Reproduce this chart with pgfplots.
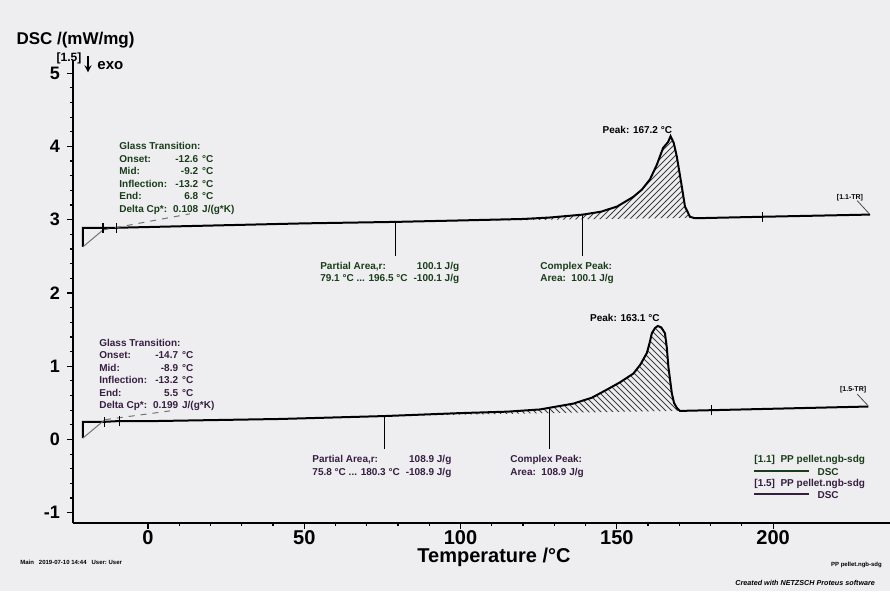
\documentclass[border=0pt]{standalone}
\usepackage{pgfplots}
\pgfplotsset{compat=1.18}
\usepackage{fontspec}
\setmainfont{Liberation Sans}
\usetikzlibrary{patterns}
\definecolor{bg}{RGB}{238,238,240}
\definecolor{gtg}{RGB}{25,60,25}
\definecolor{pur}{RGB}{55,30,65}
\newcommand{\fs}[1]{\fontsize{#1}{#1}\selectfont}
\newcommand{\fa}{\bfseries\fontsize{5}{6.25}\selectfont}
\begin{document}
\begin{tikzpicture}
\fill[bg] (0,0) rectangle (445pt,295.5pt);
\path[use as bounding box] (0,0) rectangle (445pt,295.5pt);
\begin{axis}[
 at={(36.5pt,34pt)}, anchor=south west,
 scale only axis, width=408.5pt, height=231.5pt,
 xmin=-24, xmax=237.4, ymin=-1.14, ymax=5.18,
 axis x line=bottom, axis y line=left,
 axis line style={-, line width=1pt},
 xtick={0,50,...,200}, ytick={-1,0,...,5},
 minor x tick num=4, minor y tick num=4,
 tick align=outside, major tick length=3pt, minor tick length=1.5pt,
 tick style={black, line width=0.6pt},
 x tick label style={font=\bfseries\fs{10}, yshift=3pt},
 y tick label style={font=\bfseries\fs{9}},
 /pgf/number format/assume math mode=true,
 clip=false,
]
% hatched partial areas
\addplot[draw=none, pattern=north east lines, pattern color=black!75] coordinates {
(79.1,2.97) (100,2.99) (120,3.01) (128.6,3.03) (139.2,3.07) (145,3.11) (150.1,3.18) (155.2,3.31) (158,3.41) (160.6,3.55) (162.8,3.75) (164.8,3.98) (166.4,4.06) (167.2,4.14) (168.2,4.05) (169.2,3.86) (170.8,3.45) (171.8,3.18) (173.4,3.04) (175,3.02) (196.5,3.04)};
\addplot[draw=none, pattern=north west lines, pattern color=black!75] coordinates {
(75.8,0.32) (99.8,0.36) (115,0.38) (125.4,0.41) (136.1,0.49) (142,0.57) (146.8,0.68) (151,0.78) (155.3,0.90) (157.5,1.02) (159.6,1.18) (160.5,1.32) (161.2,1.45) (162.2,1.52) (163.1,1.55) (164.2,1.53) (165.4,1.45) (166,1.25) (166.5,0.99) (167.6,0.63) (168.3,0.50) (169.2,0.43) (170.2,0.39) (180.3,0.40)};
% curve [1.1]
\addplot[black, line width=1pt] coordinates {
(-20.8,2.63) (-20.8,2.89) (-15,2.89) (-10,2.89) (0,2.90) (20,2.92) (50,2.95) (79.1,2.97) (100,2.99) (120,3.01) (128.6,3.03) (139.2,3.07) (145,3.11) (150.1,3.18) (155.2,3.31) (158,3.41) (160.6,3.55) (162.8,3.75) (164.8,3.98) (166.4,4.06) (167.2,4.14) (168.2,4.05) (169.2,3.86) (170.8,3.45) (171.8,3.18) (173.4,3.04) (175,3.02) (196.5,3.04) (231,3.07)};
% curve [1.5]
\addplot[black, line width=1pt] coordinates {
(-20.8,0.02) (-20.8,0.24) (-14.4,0.24) (-10,0.25) (0,0.25) (42.2,0.28) (75.8,0.32) (99.8,0.36) (115,0.38) (125.4,0.41) (136.1,0.49) (142,0.57) (146.8,0.68) (151,0.78) (155.3,0.90) (157.5,1.02) (159.6,1.18) (160.5,1.32) (161.2,1.45) (162.2,1.52) (163.1,1.55) (164.2,1.53) (165.4,1.45) (166,1.25) (166.5,0.99) (167.6,0.63) (168.3,0.50) (169.2,0.43) (170.2,0.39) (180.3,0.40) (230.5,0.45)};
% glass transition construction lines
\addplot[black!55, line width=0.5pt] coordinates {(-20.8,2.63) (-14.4,2.86)};
\addplot[black!55, line width=0.5pt, dashed] coordinates {(-14.4,2.86) (13.4,3.08)};
\addplot[black!55, line width=0.5pt] coordinates {(-20.8,0.02) (-13.8,0.27)};
\addplot[black!55, line width=0.5pt, dashed] coordinates {(-13.8,0.27) (7.0,0.39)};
% small tick marks on curves
\addplot[black, line width=0.6pt] coordinates {(-14.4,2.82) (-14.4,2.96)};
\addplot[black, line width=0.6pt] coordinates {(-10.0,2.82) (-10.0,2.96)};
\addplot[black, line width=0.6pt] coordinates {(196.5,2.97) (196.5,3.11)};
\addplot[black, line width=0.6pt] coordinates {(-13.8,0.17) (-13.8,0.31)};
\addplot[black, line width=0.6pt] coordinates {(-9.2,0.18) (-9.2,0.32)};
\addplot[black, line width=0.6pt] coordinates {(180.3,0.33) (180.3,0.47)};
% vertical marker lines
\addplot[black, line width=0.5pt] coordinates {(79.1,2.97) (79.1,2.50)};
\addplot[black, line width=0.5pt] coordinates {(138.9,3.07) (138.9,2.50)};
\addplot[black, line width=0.5pt] coordinates {(75.8,0.32) (75.8,-0.13)};
\addplot[black, line width=0.5pt] coordinates {(128.4,0.42) (128.4,-0.13)};
% TR leaders
\addplot[black!70, line width=0.4pt] coordinates {(226.9,3.26) (230.8,3.08)};
\addplot[black!70, line width=0.4pt] coordinates {(226.9,0.62) (230.4,0.46)};
% legend lines
\addplot[gtg, line width=0.6pt] coordinates {(193.9,-0.43) (211.5,-0.43)};
\addplot[pur, line width=0.6pt] coordinates {(193.9,-0.745) (211.5,-0.745)};

% texts
\node[anchor=north west, gtg, font=\fa, inner sep=0pt] at (axis cs:-9.28,4.08) {%
\setlength{\tabcolsep}{0pt}\begin{tabular}{l@{\hspace{3pt}}r@{\hspace{2pt}}l}
\multicolumn{3}{l}{Glass Transition:}\\
Onset: & -12.6 & °C\\
Mid: & -9.2 & °C\\
Inflection: & -13.2 & °C\\
End: & 6.8 & °C\\
Delta Cp*: & 0.108 & J/(g*K)
\end{tabular}};
\node[anchor=north west, pur, font=\fa, inner sep=0pt] at (axis cs:-15.7,1.40) {%
\setlength{\tabcolsep}{0pt}\begin{tabular}{l@{\hspace{3pt}}r@{\hspace{2pt}}l}
\multicolumn{3}{l}{Glass Transition:}\\
Onset: & -14.7 & °C\\
Mid: & -8.9 & °C\\
Inflection: & -13.2 & °C\\
End: & 5.5 & °C\\
Delta Cp*: & 0.199 & J/(g*K)
\end{tabular}};
\node[anchor=north west, gtg, font=\fa, inner sep=0pt] at (axis cs:55.0,2.45) {%
\setlength{\tabcolsep}{0pt}\begin{tabular}{l@{\hspace{3pt}}r}
Partial Area,r: & 100.1 J/g\\
79.1 °C ... 196.5 °C & -100.1 J/g
\end{tabular}};
\node[anchor=north west, gtg, font=\fa, inner sep=0pt] at (axis cs:125.4,2.45) {%
\setlength{\tabcolsep}{0pt}\begin{tabular}{l}
Complex Peak:\\
Area:\ \ 100.1 J/g
\end{tabular}};
\node[anchor=north west, pur, font=\fa, inner sep=0pt] at (axis cs:52.5,-0.19) {%
\setlength{\tabcolsep}{0pt}\begin{tabular}{l@{\hspace{3pt}}r}
Partial Area,r: & 108.9 J/g\\
75.8 °C ... 180.3 °C & -108.9 J/g
\end{tabular}};
\node[anchor=north west, pur, font=\fa, inner sep=0pt] at (axis cs:115.8,-0.19) {%
\setlength{\tabcolsep}{0pt}\begin{tabular}{l}
Complex Peak:\\
Area:\ \ 108.9 J/g
\end{tabular}};
\node[anchor=base east, font=\fa, inner sep=0pt] at (axis cs:167.8,4.17) {Peak: 167.2 °C};
\node[anchor=base east, font=\fa, inner sep=0pt] at (axis cs:163.8,1.605) {Peak: 163.1 °C};
\node[font=\bfseries\fs{3.5}, inner sep=0pt] at (axis cs:224.6,3.30) {[1.1-TR]};
\node[font=\bfseries\fs{3.5}, inner sep=0pt] at (axis cs:225.6,0.68) {[1.5-TR]};
% legend text
\node[anchor=base west, gtg, font=\fa, inner sep=0pt] at (axis cs:193.9,-0.31) {[1.1]\ \ PP pellet.ngb-sdg};
\node[anchor=base west, gtg, font=\fa, inner sep=0pt] at (axis cs:214.1,-0.485) {DSC};
\node[anchor=base west, pur, font=\fa, inner sep=0pt] at (axis cs:193.9,-0.635) {[1.5]\ \ PP pellet.ngb-sdg};
\node[anchor=base west, pur, font=\fa, inner sep=0pt] at (axis cs:214.1,-0.80) {DSC};
% axis titles
\node[font=\bfseries\fs{10}] at (axis cs:110.7,-1.61) {Temperature /°C};
\node[anchor=west, font=\bfseries\fs{8.5}, inner sep=0pt] at (axis cs:-42.2,5.45) {DSC /(mW/mg)};
\node[anchor=east, font=\bfseries\fs{6}, inner sep=0pt] at (axis cs:-21.2,5.20) {[1.5]};
\node[anchor=west, font=\bfseries\fs{7.5}, inner sep=0pt] at (axis cs:-16.3,5.10) {exo};
\draw[-stealth, line width=0.6pt] (axis cs:-19.2,5.23) -- (axis cs:-19.2,5.01);
% footers
\node[anchor=base west, font=\bfseries\fs{3}, inner sep=0pt] at (axis cs:-41,-1.70) {Main\ \ \ 2019-07-10 14:44\ \ \ User:\ User};
\node[anchor=base east, font=\bfseries\fs{3}, inner sep=0pt] at (axis cs:234.9,-1.73) {PP pellet.ngb-sdg};
\node[anchor=base west, font=\bfseries\itshape\fs{3.6}, inner sep=0pt] at (axis cs:187.8,-1.99) {Created with NETZSCH Proteus software};
\end{axis}
\end{tikzpicture}
\end{document}
